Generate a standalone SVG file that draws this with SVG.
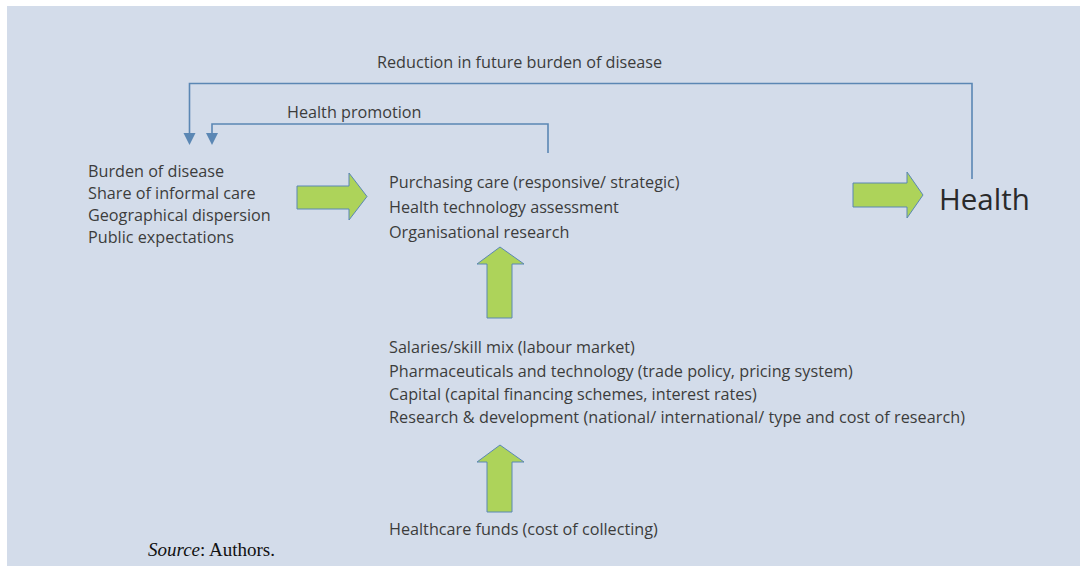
<svg xmlns="http://www.w3.org/2000/svg" width="1080" height="566" viewBox="0 0 1080 566">
<style>
.t{font-family:"Open Sans","Noto Sans",sans-serif;font-size:16.2px;fill:#3c3c3c}
.big{font-family:"Open Sans","Noto Sans",sans-serif;font-size:29.5px;fill:#2a2a2a}
.src{font-family:"Liberation Serif",serif;font-size:19px;fill:#111}
.conn{fill:none;stroke:#5B87B4;stroke-width:1.6}
.ga{fill:#ADD35A;stroke:#5B87B4;stroke-width:1}
</style>
<rect x="7" y="6" width="1073" height="560" fill="#D3DCEA"/>
<g id="connectors">
<path class="conn" d="M972,179 V83.5 H189.5 V133"/>
<path d="M183.5,133 L195.5,133 L189.5,145 Z" fill="#5B87B4"/>
<path class="conn" d="M548,153 V124 H212 V133"/>
<path d="M206,133 L218,133 L212,145 Z" fill="#5B87B4"/>
<text class="t" x="377" y="68">Reduction in future burden of disease</text>
<text class="t" x="287" y="118">Health promotion</text>
<polygon class="ga" points="297,186 349,186 349,173 367,196.5 349,220 349,209 297,209"/>
<polygon class="ga" points="853,183 907,183 907,172 923,195 907,218 907,207 853,207"/>
<polygon class="ga" points="500,247 524,264 512,264 512,318 487,318 487,264 477,264"/>
<polygon class="ga" points="500,445 524,462 512,462 512,512 487,512 487,462 477,462"/>
</g>
<g id="determinants">
<text class="t" x="88" y="177">Burden of disease</text>
<text class="t" x="88" y="199">Share of informal care</text>
<text class="t" x="88" y="221">Geographical dispersion</text>
<text class="t" x="88" y="243">Public expectations</text>
</g>
<g id="purchasing">
<text class="t" x="389" y="188">Purchasing care (responsive/ strategic)</text>
<text class="t" x="389" y="213">Health technology assessment</text>
<text class="t" x="389" y="238">Organisational research</text>
</g>
<g id="health">
<text class="big" x="939" y="210">Health</text>
</g>
<g id="inputs">
<text class="t" x="389" y="353">Salaries/skill mix (labour market)</text>
<text class="t" x="389" y="377">Pharmaceuticals and technology (trade policy, pricing system)</text>
<text class="t" x="389" y="400">Capital (capital financing schemes, interest rates)</text>
<text class="t" x="389" y="423" textLength="576" lengthAdjust="spacing">Research &amp; development (national/ international/ type and cost of research)</text>
</g>
<g id="funds">
<text class="t" x="389" y="535">Healthcare funds (cost of collecting)</text>
</g>
<g id="source">
<text class="src" x="148" y="556"><tspan font-style="italic">Source</tspan>: Authors.</text>
</g>
</svg>
